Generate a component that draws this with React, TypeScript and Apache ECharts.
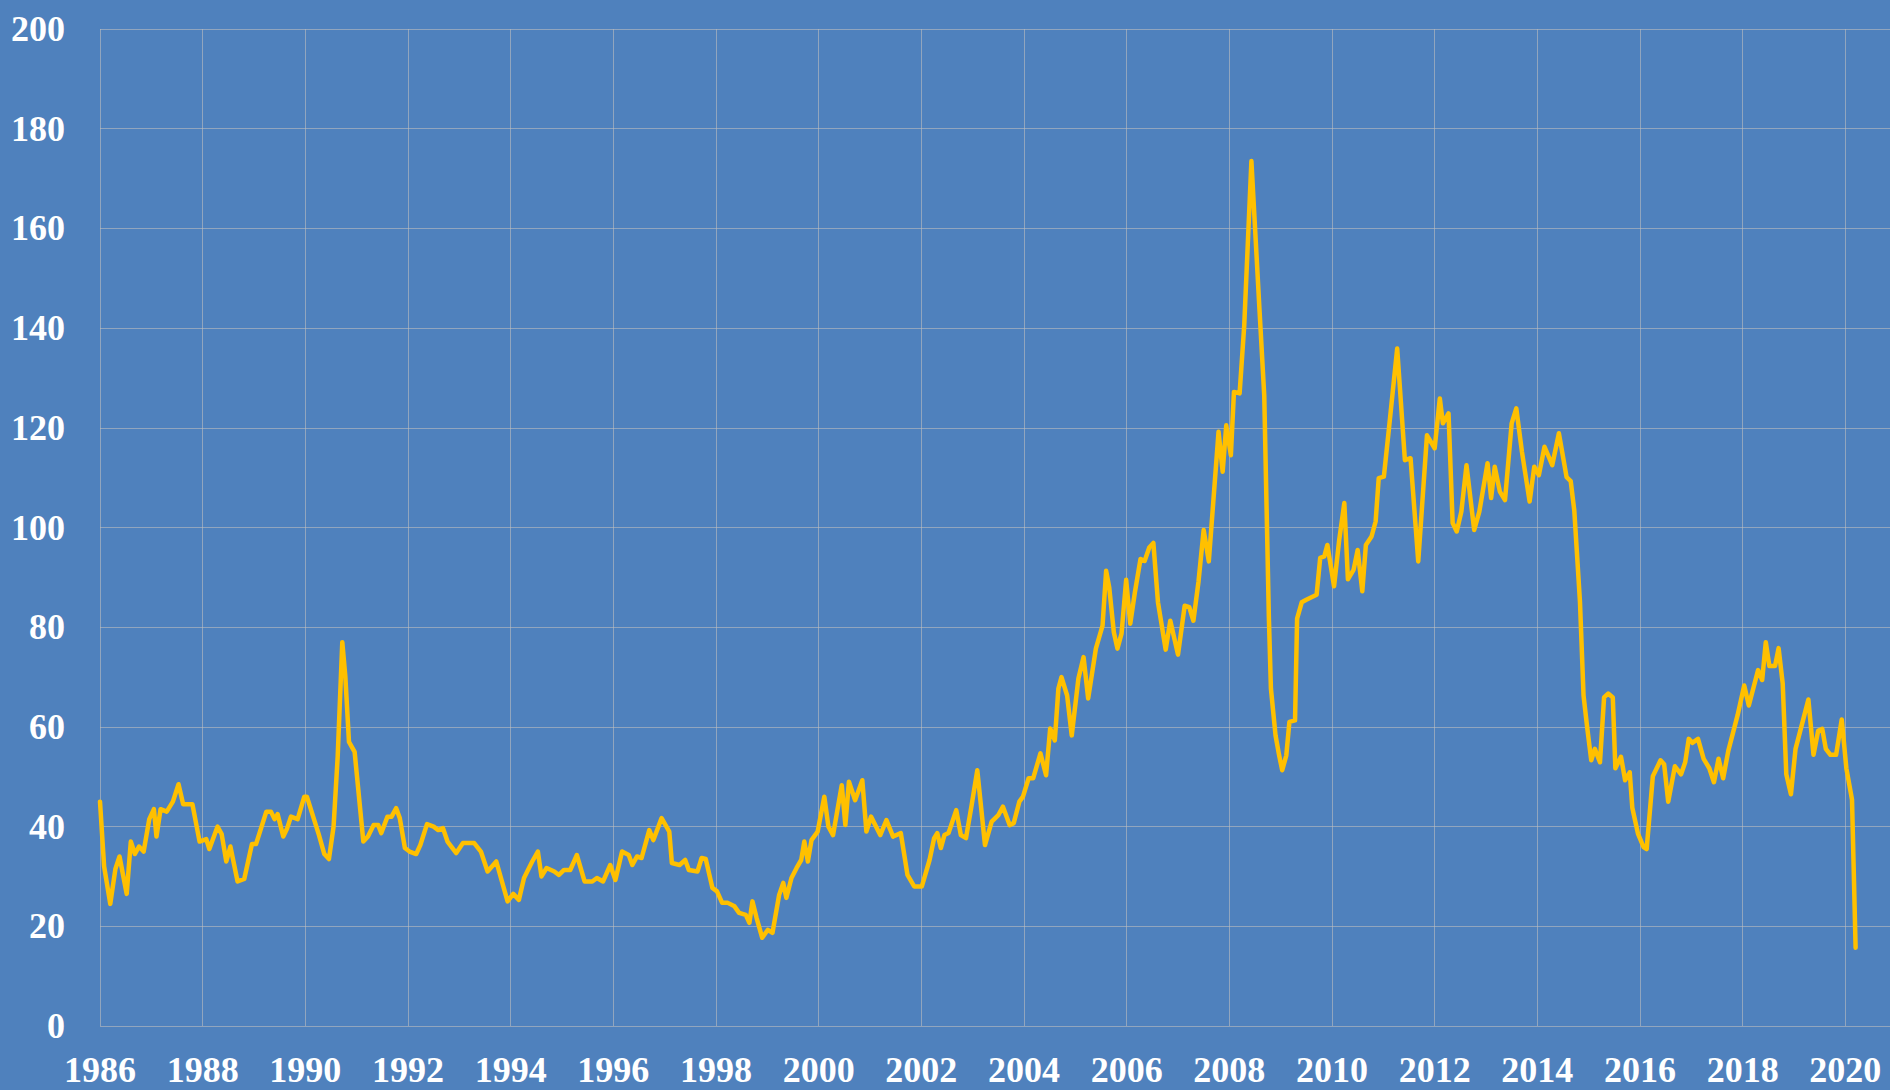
import React, { useEffect, useRef } from "react";
import * as echarts from "echarts";

// Monthly price readings (decimal year, value)
const years: number[] = [
  1986.0, 1986.08, 1986.2, 1986.3, 1986.38, 1986.52, 1986.6, 1986.68, 1986.76, 1986.85, 1986.96,
  1987.05, 1987.1, 1987.18, 1987.3, 1987.42, 1987.53, 1987.62, 1987.8, 1987.94,
  1988.07, 1988.13, 1988.29, 1988.37, 1988.46, 1988.54, 1988.68, 1988.81, 1988.96,
  1989.04, 1989.24, 1989.33, 1989.4, 1989.46, 1989.57, 1989.64, 1989.72, 1989.85, 1989.98,
  1990.03, 1990.26, 1990.37, 1990.46, 1990.55, 1990.63, 1990.72, 1990.78, 1990.85, 1990.96,
  1991.13, 1991.22, 1991.33, 1991.42, 1991.48, 1991.6, 1991.68, 1991.77, 1991.84, 1991.94,
  1992.03, 1992.16, 1992.24, 1992.37, 1992.5, 1992.59, 1992.68, 1992.77, 1992.94,
  1993.07, 1993.29, 1993.42, 1993.55, 1993.72, 1993.94,
  1994.05, 1994.16, 1994.26, 1994.42, 1994.53, 1994.6, 1994.7, 1994.85, 1994.94,
  1995.04, 1995.16, 1995.29, 1995.44, 1995.59, 1995.68, 1995.8, 1995.94,
  1996.04, 1996.17, 1996.3, 1996.37, 1996.46, 1996.55, 1996.7, 1996.78, 1996.94,
  1997.09, 1997.14, 1997.29, 1997.4, 1997.47, 1997.64, 1997.72, 1997.8, 1997.93,
  1998.02, 1998.12, 1998.23, 1998.36, 1998.45, 1998.58, 1998.65, 1998.71, 1998.79, 1998.9,
  1999.01, 1999.1, 1999.23, 1999.31, 1999.37, 1999.47, 1999.57, 1999.66, 1999.72, 1999.79, 1999.86, 1999.98,
  2000.11, 2000.19, 2000.28, 2000.45, 2000.52, 2000.59, 2000.71, 2000.85, 2000.93,
  2001.02, 2001.2, 2001.32, 2001.45, 2001.6, 2001.73, 2001.86,
  2002.01, 2002.16, 2002.25, 2002.31, 2002.38, 2002.45, 2002.53, 2002.68, 2002.77, 2002.87, 2002.98,
  2003.09, 2003.24, 2003.37, 2003.5, 2003.59, 2003.72, 2003.8, 2003.91, 2003.98,
  2004.09, 2004.18, 2004.32, 2004.43, 2004.51, 2004.6, 2004.67, 2004.73, 2004.84, 2004.93,
  2005.06, 2005.16, 2005.25, 2005.4, 2005.53, 2005.6, 2005.66, 2005.75, 2005.82, 2005.9, 2005.99,
  2006.07, 2006.16, 2006.27, 2006.35, 2006.44, 2006.52, 2006.61, 2006.76, 2006.85,
  2007.0, 2007.13, 2007.22, 2007.3, 2007.4, 2007.5, 2007.6, 2007.79, 2007.87, 2007.94,
  2008.03, 2008.09, 2008.2, 2008.29, 2008.43, 2008.59, 2008.68, 2008.77, 2008.81, 2008.9, 2008.97,
  2009.03, 2009.11, 2009.17, 2009.28, 2009.32, 2009.41, 2009.5, 2009.6, 2009.7, 2009.77, 2009.85, 2009.91,
  2010.04, 2010.14, 2010.24, 2010.31, 2010.42, 2010.5, 2010.59, 2010.66, 2010.77, 2010.85, 2010.91,
  2011.01, 2011.11, 2011.27, 2011.42, 2011.53, 2011.68, 2011.85,
  2012.0, 2012.1, 2012.16, 2012.27, 2012.35, 2012.43, 2012.52, 2012.62, 2012.77, 2012.87,
  2013.03, 2013.1, 2013.17, 2013.27, 2013.37, 2013.5, 2013.59, 2013.7, 2013.85, 2013.94,
  2014.03, 2014.14, 2014.29, 2014.42, 2014.57, 2014.65, 2014.72, 2014.83, 2014.9, 2014.97,
  2015.05, 2015.12, 2015.22, 2015.3, 2015.38, 2015.47, 2015.52, 2015.63, 2015.71, 2015.8, 2015.85, 2015.96,
  2016.07, 2016.13, 2016.25, 2016.4, 2016.47, 2016.55, 2016.68, 2016.8, 2016.88, 2016.95,
  2017.02, 2017.13, 2017.24, 2017.35, 2017.44, 2017.53, 2017.62, 2017.72, 2017.9,
  2018.03, 2018.12, 2018.3, 2018.38, 2018.45, 2018.52, 2018.63, 2018.7, 2018.78, 2018.85, 2018.94,
  2019.03, 2019.18, 2019.28, 2019.38, 2019.47, 2019.55, 2019.62, 2019.71, 2019.82, 2019.93,
  2020.02, 2020.13, 2020.2,
];

const prices: number[] = [
  45, 32, 24.5, 31.5, 34, 26.5, 37, 34.5, 36, 35, 41.5,
  43.5, 38, 43.5, 43, 45, 48.5, 44.5, 44.5, 37,
  37.5, 35.5, 40, 38.5, 33, 36, 29, 29.5, 36.5,
  36.5, 43, 43, 41.5, 42.5, 38, 39.5, 42, 41.5, 46,
  46, 38.5, 34.5, 33.5, 40, 54, 77, 70, 57, 55,
  37, 38, 40.3, 40.3, 38.7, 42, 42, 43.7, 41.7, 35.7,
  35, 34.5, 36.3, 40.5, 40, 39.3, 39.7, 37, 34.7,
  36.7, 36.7, 35, 31, 33, 25,
  26.5, 25.3, 29.7, 33, 35, 30, 31.7, 31, 30.3,
  31.3, 31.3, 34.3, 29, 29, 29.7, 29, 32.3,
  29.3, 35, 34.3, 32.3, 34, 33.7, 39.3, 37.3, 41.7,
  39, 32.7, 32.3, 33.3, 31.3, 31, 33.7, 33.5, 27.7,
  27, 24.7, 24.7, 24, 22.7, 22.3, 20.7, 25, 21.7, 17.7,
  19.3, 18.7, 26.3, 28.7, 25.7, 29.7, 31.7, 33.3, 37, 33, 37.3, 39,
  46, 40, 38.3, 48.3, 40.3, 49, 45.3, 49.3, 39,
  42, 38.3, 41.3, 38, 38.7, 30.3, 28,
  28, 33.3, 37.7, 38.7, 35.7, 38.3, 38.7, 43.3, 38.3, 37.7, 44.3,
  51.3, 36.3, 41, 42.3, 44, 40.3, 40.7, 45, 46,
  49.7, 49.7, 54.7, 50.3, 59.7, 57.3, 67.7, 70, 66.3, 58.3,
  69.7, 74, 65.7, 75.7, 80.3, 91.3, 88, 79, 75.7, 78.7, 89.5,
  80.7, 87, 93.7, 93.3, 96, 96.9, 85, 75.5, 81.3,
  74.5, 84.3, 84, 81.3, 89.2, 99.5, 93.2, 119.2, 111.2, 120.5,
  114.5, 127.2, 126.9, 140.5, 173.5, 143.2, 126.5, 82, 67.7, 58.3, 54.3,
  51.3, 54.3, 61, 61.3, 81.7, 85, 85.5, 86, 86.5, 93.9, 94.2, 96.5,
  88.2, 97.5, 104.9, 89.6, 91.5, 95.5, 87.2, 96.5, 98.2, 101.2, 109.9,
  110.2, 119.9, 135.9, 113.5, 113.9, 93.2, 118.5,
  115.9, 125.9, 120.9, 122.9, 100.9, 99.2, 103.2, 112.5, 99.5, 103.2,
  112.9, 105.9, 112.2, 107.2, 105.5, 120.9, 123.9, 115.2, 105.2, 112.2,
  110.5, 116.2, 112.5, 118.9, 110.1, 109.3, 103.4, 85.2, 66.3, 60,
  53.3, 55.6, 52.9, 65.9, 66.7, 65.9, 51.7, 54, 49.3, 50.9, 43.8, 38.6,
  35.9, 35.5, 50.1, 53.3, 52.5, 45, 52.1, 50.5, 52.9, 57.6,
  56.8, 57.6, 53.6, 51.7, 48.9, 53.6, 49.7, 55.2, 62.3,
  68.3, 64.3, 71.4, 69.4, 77, 72.2, 72.2, 75.8, 68.7, 50.5, 46.5,
  55.6, 61.5, 65.5, 54.4, 59.2, 59.6, 55.6, 54.4, 54.4, 61.5,
  51.7, 45.4, 15.7,
];

const yTicks = { min: 0, max: 200, step: 20 };
const xTicks = { min: 1986, max: 2020.87, step: 2 };

export default function App() {
  const ref = useRef<HTMLDivElement>(null);
  useEffect(() => {
    if (!ref.current) return;
    const chart = echarts.init(ref.current, undefined, { renderer: "svg" });
    const gridColor = "rgba(190,190,190,0.6)";
    const labelFont = {
      color: "#ffffff",
      fontFamily: "'Liberation Serif', 'DejaVu Serif', serif",
      fontWeight: "bold" as const,
      fontSize: 36,
    };
    chart.setOption({
      animation: false,
      backgroundColor: "#4F81BD",
      grid: { left: 100, right: 0, top: 29, bottom: 64, containLabel: false },
      xAxis: {
        type: "value",
        min: xTicks.min,
        max: xTicks.max,
        interval: xTicks.step,
        axisLine: { show: false },
        axisTick: { show: false },
        splitLine: { show: true, lineStyle: { color: gridColor, width: 1 } },
        axisLabel: {
          ...labelFont,
          margin: 26,
          showMaxLabel: false,
          formatter: (v: number) =>
            Math.abs(v - Math.round(v)) < 1e-6 && Math.round(v) % 2 === 0 ? String(Math.round(v)) : "",
        },
      },
      yAxis: {
        type: "value",
        min: yTicks.min,
        max: yTicks.max,
        interval: yTicks.step,
        axisLine: { show: false },
        axisTick: { show: false },
        splitLine: { show: true, lineStyle: { color: gridColor, width: 1 } },
        axisLabel: { ...labelFont, margin: 35 },
      },
      series: [
        {
          type: "line",
          data: years.map((y, i) => [y, prices[i]]),
          showSymbol: false,
          symbol: "none",
          lineStyle: { color: "#FFC000", width: 4.5, join: "round", cap: "round" },
          z: 3,
        },
      ],
    });
    return () => chart.dispose();
  }, []);
  return (
    <div
      ref={ref}
      style={{ position: "fixed", left: 0, top: 0, width: 1890, height: 1090 }}
    />
  );
}
